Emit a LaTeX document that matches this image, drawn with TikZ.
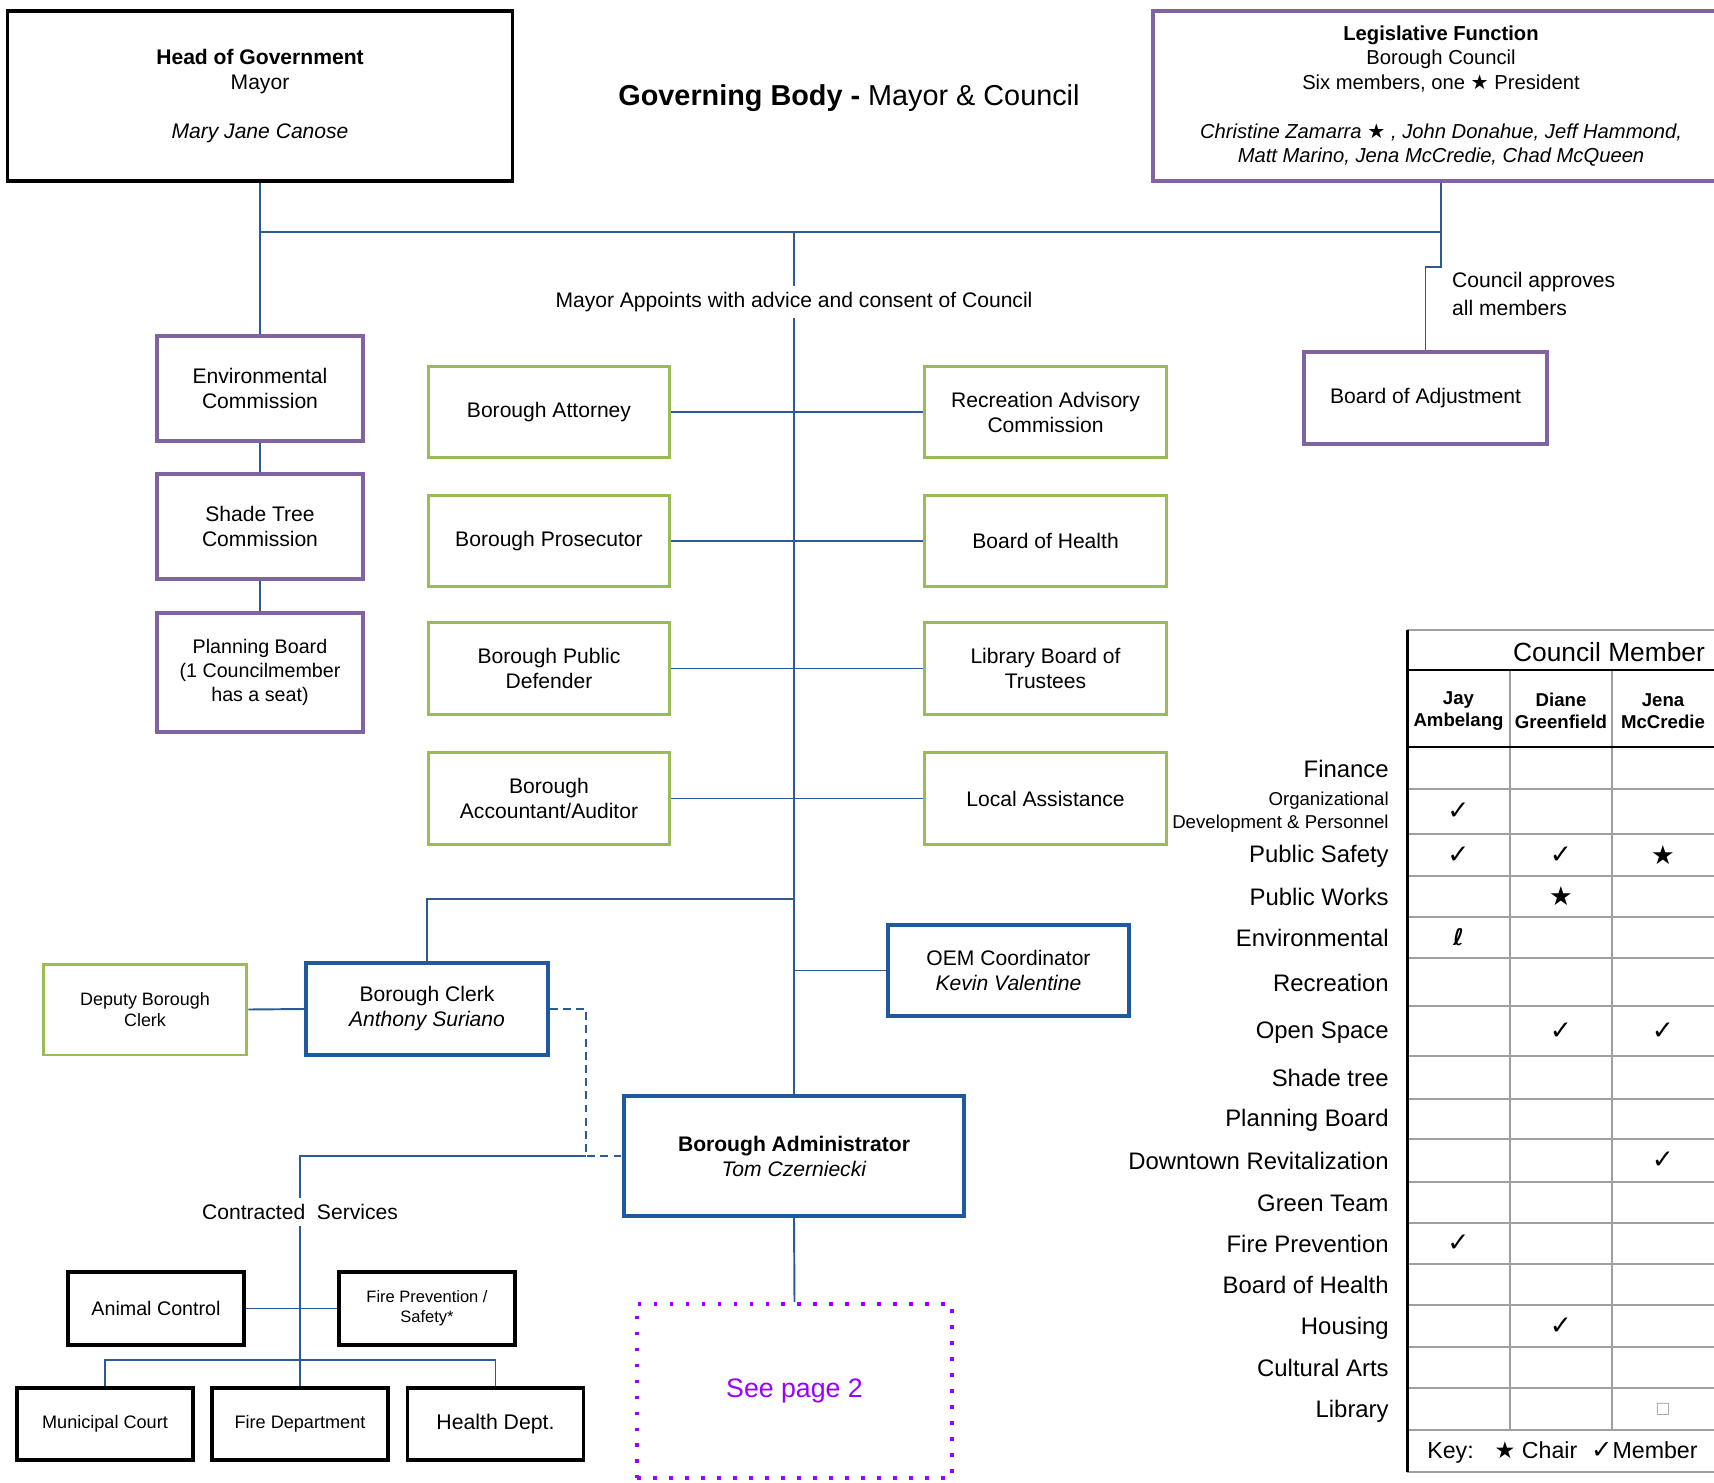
\documentclass[tikz,border=0pt]{standalone}
\usepackage{fontspec}
\setmainfont{Liberation Sans}
\newfontfamily\dejavu{DejaVu Sans}
\usetikzlibrary{positioning}
\definecolor{purpleb}{HTML}{8064A2}
\definecolor{greenb}{HTML}{9BBB59}
\definecolor{blueb}{HTML}{1F5A9E}
\definecolor{linec}{HTML}{2E5A94}
\definecolor{seeviolet}{HTML}{9900FF}
\definecolor{tabgrey}{HTML}{A0A0A0}
\newcommand{\chairmark}{{\dejavu\upshape ★}}
\newcommand{\membmark}{{\dejavu\upshape ✓}}
\tikzset{
  orgbox/.style={draw, rectangle, align=center, inner sep=2pt,
    font=\fontsize{12}{14.2}\selectfont},
  purplebox/.style={orgbox, draw=purpleb, line width=1.8pt},
  greenbox/.style={orgbox, draw=greenb, line width=1.7pt,
    minimum width=4.84cm, minimum height=1.84cm},
  bluebox/.style={orgbox, draw=blueb, line width=2pt},
  blackbox/.style={orgbox, draw=black, line width=2.2pt,
    minimum width=3.52cm, minimum height=1.45cm},
  conn/.style={draw=linec, line width=1.1pt},
  tabgray/.style={draw=tabgrey, line width=1.4pt},
  tabblack/.style={draw=black, line width=1.3pt},
  rowlabel/.style={anchor=east, inner sep=0pt, font=\fontsize{13.6}{15}\selectfont},
  colhead/.style={align=center, inner sep=0pt, font=\fontsize{10.6}{12.4}\selectfont\bfseries},
  cellmark/.style={inner sep=0pt, font=\fontsize{15}{17}\selectfont\dejavu},
}

\begin{document}
\begin{tikzpicture}[x=0.02cm, y=-0.02cm]
  \useasboundingbox (0,0) rectangle (1714,1483);

  % top row
  \node[blackbox, minimum width=10.1cm, minimum height=3.4cm] (head) at (260,96)
    {\textbf{Head of Government}\\Mayor\\[14pt]\textit{Mary Jane Canose}};
  \node[font=\fontsize{16.4}{19}\selectfont] (title) at (849,98)
    {\textbf{Governing Body -} Mayor \& Council};
  \node[purplebox, minimum width=11.52cm, minimum height=3.4cm, font=\fontsize{11.5}{13.9}\selectfont] (legis) at (1441,96)
    {\textbf{Legislative Function}\\Borough Council\\Six members, one \chairmark{} President\\[13.9pt]
     \textit{Christine Zamarra \chairmark{} , John Donahue, Jeff Hammond,}\\
     \textit{Matt Marino, Jena McCredie, Chad McQueen}};

  \coordinate (hub) at (794,232);
  \coordinate (jog) at (1441,267);
  \node[font=\fontsize{12}{14.2}\selectfont] (appoint) at (794,302)
    {Mayor Appoints with advice and consent of Council};
  \node[anchor=west, align=left, font=\fontsize{12}{15.5}\selectfont] (approve) at (1446,294)
    {Council approves\\all members};
  \node[purplebox, minimum width=4.86cm, minimum height=1.84cm] (boa) at (1425.5,398) {Board of Adjustment};

  % commissions
  \node[purplebox, minimum width=4.12cm, minimum height=2.1cm] (env) at (260,388.5) {Environmental\\Commission};
  \node[purplebox, minimum width=4.12cm, minimum height=2.1cm] (shade) at (260,526.5) {Shade Tree\\Commission};
  \node[purplebox, minimum width=4.12cm, minimum height=2.38cm, font=\fontsize{11.2}{13.7}\selectfont] (plan) at (260,672.5)
    {Planning Board\\(1 Councilmember\\has a seat)};

  % appointed by the mayor
  \node[greenbox] (att) at (549,412) {Borough Attorney};
  \node[greenbox] (pros) at (549,541) {Borough Prosecutor};
  \node[greenbox] (pubdef) at (549,668.5) {Borough Public\\Defender};
  \node[greenbox] (acct) at (549,798.5) {Borough\\Accountant/Auditor};
  \node[greenbox] (recadv) at (1045.5,412) {Recreation Advisory\\Commission};
  \node[greenbox] (bohealth) at (1045.5,541) {Board of Health};
  \node[greenbox] (libboard) at (1045.5,668.5) {Library Board of\\Trustees};
  \node[greenbox] (localas) at (1045.5,798.5) {Local Assistance};

  % staff
  \node[bluebox, minimum width=4.84cm, minimum height=1.84cm] (clerk) at (427,1009)
    {Borough Clerk\\\textit{Anthony Suriano}};
  \node[greenbox, minimum width=4.08cm, minimum height=1.82cm, font=\fontsize{10.2}{12.4}\selectfont] (deputy) at (145,1009.5)
    {Deputy Borough\\Clerk};
  \node[bluebox, minimum width=4.82cm, minimum height=1.82cm] (oem) at (1008.5,970.5)
    {OEM Coordinator\\\textit{Kevin Valentine}};
  \node[bluebox, minimum width=6.8cm, minimum height=2.4cm] (admin) at (794,1156)
    {\textbf{Borough Administrator}\\\textit{Tom Czerniecki}};
  \coordinate (clerkjoin) at (794,899);
  \coordinate (split) at (586,1156);

  % contracted services
  \node[font=\fontsize{12}{14.2}\selectfont] (contract) at (300,1212) {Contracted~~Services};
  \node[blackbox, font=\fontsize{11.2}{13}\selectfont] (animal) at (156,1308.5) {Animal Control};
  \node[blackbox, font=\fontsize{9.4}{11.2}\selectfont] (fireprev) at (427,1308.5) {Fire Prevention /\\Safety*};
  \node[blackbox, font=\fontsize{10.3}{12}\selectfont] (court) at (105,1424) {Municipal Court};
  \node[blackbox, font=\fontsize{10.3}{12}\selectfont] (firedept) at (300,1424) {Fire Department};
  \node[blackbox, font=\fontsize{12.1}{14}\selectfont] (healthdept) at (495.5,1424) {Health Dept.};
  \coordinate (branch) at (300,1360);

  \node[draw=seeviolet, line width=2.2pt, dash pattern=on 2.2pt off 6.9pt,
    minimum width=6.3cm, minimum height=3.48cm, text=seeviolet,
    font=\fontsize{15.2}{17}\selectfont] (seepage) at (794.5,1391) {\raisebox{-2pt}{See page 2}};

  % connectors
  \draw[conn] (head.south) -- (env.north);
  \draw[conn] (env.north |- hub) -- (legis.south |- hub) -- (legis.south);
  \draw[conn] (legis.south |- hub) -- (jog) -| (boa.north);
  \draw[conn] (hub) -- (appoint.north);
  \draw[conn] (appoint.south) -- (admin.north);
  \draw[conn] (env.south) -- (shade.north);
  \draw[conn] (shade.south) -- (plan.north);
  \draw[conn] (att.east) -- (recadv.west);
  \draw[conn] (pros.east) -- (bohealth.west);
  \draw[conn] (pubdef.east) -- (libboard.west);
  \draw[conn] (acct.east) -- (localas.west);
  \draw[conn] (clerk.north) |- (clerkjoin);
  \draw[conn] (deputy.east) -- (clerk.west);
  \draw[conn] (oem.west) -- (oem.west -| admin.north);
  \draw[conn, dash pattern=on 4.5pt off 3pt] (clerk.east) -| (split) -- (admin.west);
  \draw[conn] (split) -| (contract.north);
  \draw[conn] (contract.south) -- (firedept.north);
  \draw[conn] (animal.east) -- (fireprev.west);
  \draw[conn] (court.north) |- (branch) -| (healthdept.north);
  \draw[conn] (admin.south) -- (seepage.north);

  % council member table
  \draw[tabgray] (1407,630) -- (1730,630) (1407,1472) -- (1730,1472)
    (1407,789) -- (1730,789) (1407,834) -- (1730,834) (1407,876) -- (1730,876)
    (1407,917) -- (1730,917) (1407,958) -- (1730,958) (1407,1006) -- (1730,1006)
    (1407,1056) -- (1730,1056) (1407,1099) -- (1730,1099) (1407,1139) -- (1730,1139)
    (1407,1182) -- (1730,1182) (1407,1223) -- (1730,1223) (1407,1264) -- (1730,1264)
    (1407,1305) -- (1730,1305) (1407,1347) -- (1730,1347) (1407,1388) -- (1730,1388)
    (1407,1430) -- (1730,1430)
    (1510,670) -- (1510,1430) (1612,670) -- (1612,1430);
  \draw[tabblack] (1407,670) -- (1730,670) (1407,747) -- (1730,747);
  \draw[tabblack, line width=1.7pt] (1407,630) -- (1407,1472);

  \node[font=\fontsize{15}{17}\selectfont] (cmhead) at (1609,652) {Council Member};
  \node[colhead] (jay) at (1458.5,711) {Jay\\Ambelang};
  \node[colhead] (diane) at (1561,711) {Diane\\Greenfield};
  \node[colhead] (jena) at (1663,711) {Jena\\McCredie};

  \node[rowlabel] (lfin) at (1389,769) {Finance};
  \node[rowlabel, align=right, font=\fontsize{10.6}{12.8}\selectfont] (lorg) at (1389,812)
    {Organizational\\Development \& Personnel};
  \node[rowlabel] (lsafety) at (1389,856) {Public Safety};
  \node[rowlabel] (lworks) at (1389,897) {Public Works};
  \node[rowlabel] (lenv) at (1389,938) {Environmental};
  \node[rowlabel] (lrec) at (1389,983) {Recreation};
  \node[rowlabel] (lopen) at (1389,1033) {Open Space};
  \node[rowlabel] (lshade) at (1389,1078) {Shade tree};
  \node[rowlabel] (lplan) at (1389,1120) {Planning Board};
  \node[rowlabel] (ldown) at (1389,1161) {Downtown Revitalization};
  \node[rowlabel] (lgreen) at (1389,1203) {Green Team};
  \node[rowlabel] (lfire) at (1389,1244) {Fire Prevention};
  \node[rowlabel] (lhealth) at (1389,1285) {Board of Health};
  \node[rowlabel] (lhouse) at (1389,1328) {Housing};
  \node[rowlabel] (larts) at (1389,1368) {Cultural Arts};
  \node[rowlabel] (llib) at (1389,1411) {Library};

  \node[cellmark] (morg1) at (1458.5,811.5) {✓};
  \node[cellmark] (msafe1) at (1458.5,855) {✓};
  \node[cellmark] (msafe2) at (1561,855) {✓};
  \node[cellmark] (msafe3) at (1663,855) {★};
  \node[cellmark] (mworks2) at (1561,896.5) {★};
  \node[cellmark, font=\fontsize{13}{15}\selectfont\dejavu\bfseries] (menv1) at (1458.5,937.5) {ℓ};
  \node[cellmark] (mopen2) at (1561,1031) {✓};
  \node[cellmark] (mopen3) at (1663,1031) {✓};
  \node[cellmark] (mdown3) at (1663,1160.5) {✓};
  \node[cellmark] (mfire1) at (1458.5,1243.5) {✓};
  \node[cellmark] (mhouse2) at (1561,1326) {✓};
  \node[cellmark, text=tabgrey, font=\fontsize{9}{10}\selectfont\dejavu] (mlib3) at (1663,1409) {□};

  \node[anchor=west, inner sep=0pt, font=\fontsize{13.2}{15}\selectfont] (key) at (1427,1452)
    {Key:\hspace{0.9em}\chairmark{} Chair\hspace{0.6em}{\fontsize{14.5}{15}\selectfont\membmark}Member};
\end{tikzpicture}
\end{document}
